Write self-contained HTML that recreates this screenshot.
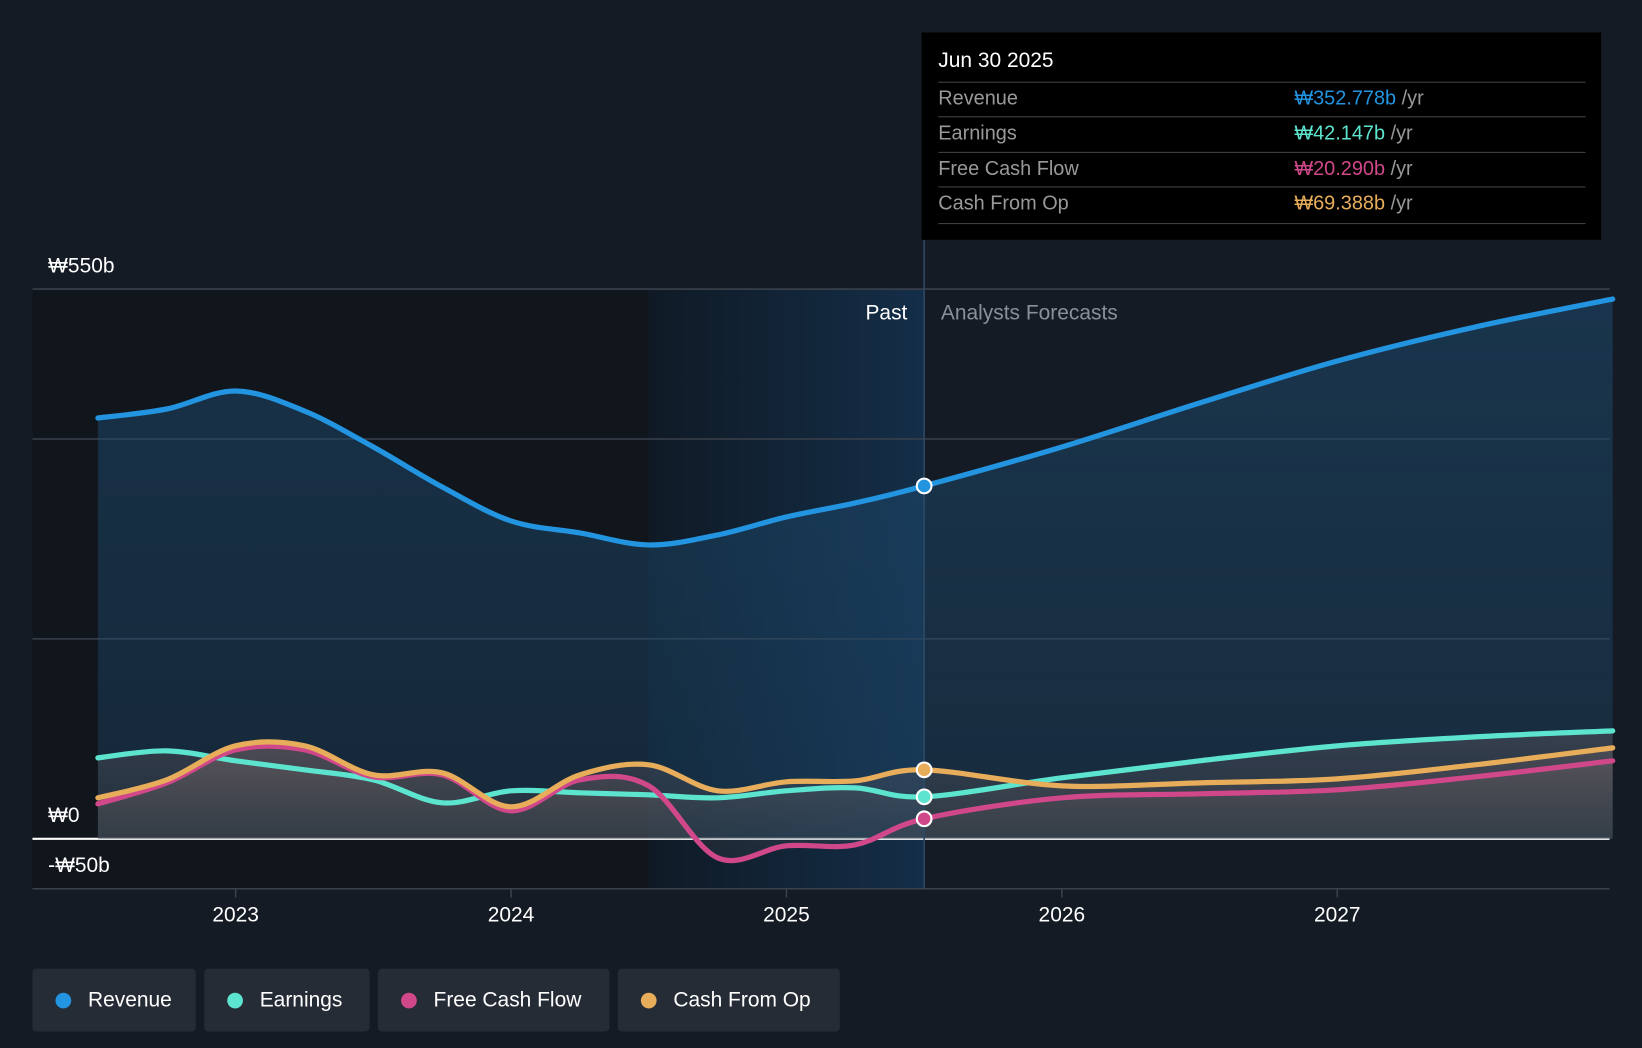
<!DOCTYPE html>
<html><head><meta charset="utf-8"><style>
html,body{margin:0;padding:0;background:#151b24;width:1642px;height:1048px;overflow:hidden}
#wrap{position:absolute;left:0;top:0;width:1568px;height:1001px;transform:scale(1.04719);transform-origin:0 0;font-family:"Liberation Sans",sans-serif}
svg{position:absolute;left:0;top:0}
.leg{position:absolute;top:925px;height:60px;background:#262c36;border-radius:4px;color:#fff;font-size:20px;line-height:60px;box-sizing:border-box;padding-left:53px}
.leg i{position:absolute;left:22px;top:23px;width:15px;height:15px;border-radius:50%}
#tip{position:absolute;left:880px;top:31px;width:649px;height:198px;background:#000}
.tr{position:absolute;left:16px;width:618px;height:33px;border-top:1px solid #444;color:#999;font-size:19px;line-height:32px}
.tr span{position:absolute;left:340px}
</style></head><body>
<div id="wrap">
<svg id="chart" width="1568" height="1001"></svg>
<div id="tip">
<div style="position:absolute;left:16px;top:16px;color:#fff;font-size:20px">Jun 30 2025</div>
<div class="tr" style="top:47px">Revenue<span><b style="font-weight:normal;color:#2394e0">₩352.778b</b> /yr</span></div>
<div class="tr" style="top:80px">Earnings<span><b style="font-weight:normal;color:#5de4cf">₩42.147b</b> /yr</span></div>
<div class="tr" style="top:114px">Free Cash Flow<span><b style="font-weight:normal;color:#d0488a">₩20.290b</b> /yr</span></div>
<div class="tr" style="top:147px;height:34px;border-bottom:1px solid #444">Cash From Op<span><b style="font-weight:normal;color:#e8ad5a">₩69.388b</b> /yr</span></div>
</div>
<div class="leg" style="left:31px;width:156px"><i style="background:#2394e0"></i>Revenue</div>
<div class="leg" style="left:195px;width:158px"><i style="background:#5de4cf"></i>Earnings</div>
<div class="leg" style="left:361px;width:221px"><i style="background:#d0488a"></i>Free Cash Flow</div>
<div class="leg" style="left:590px;width:212px"><i style="background:#e8ad5a"></i>Cash From Op</div>
</div>
<script>
const dates=[2022.5,2022.75,2023,2023.25,2023.5,2023.75,2024,2024.25,2024.5,2024.75,2025,2025.25,2025.5,2026,2026.5,2027,2027.5,2028];
const revenue=[421,430,448,428,392,352,318,306,294,304,322,336,353,392,436,478,512,540];
const earnings=[81,88,78,69,59,36,48,46,44,41,48,51,42,61,78,93,102,108];
const fcf=[35,56,89,89,62,64,28,59,53,-19,-7,-6,20,41,45,49,62,78];
const cfo=[41,59,93,93,64,66,32,64,74,48,57,58,69,53,56,60,74,91];
const yTicks=[550,400,200,0,-50];
const yLabels={550:"₩550b",0:"₩0","-50":"-₩50b"};
const xTicks=[2023,2024,2025,2026,2027];
const pastEnd=2025.5, bandStart=2024.5;
const X=d=>225+(d-2023)*263;
const Y=v=>801-v*0.9545;
const svg=document.getElementById('chart');
const NS="http://www.w3.org/2000/svg";
function mk(t,a){const e=document.createElementNS(NS,t);for(const k in a)e.setAttribute(k,a[k]);svg.appendChild(e);return e;}
function path(vals){const p=dates.map((d,i)=>[X(d),Y(vals[i])]);let s=`M${p[0][0]},${p[0][1]}`;
for(let i=0;i<p.length-1;i++){const p0=p[i-1]||p[i],p1=p[i],p2=p[i+1],p3=p[i+2]||p2;const t=6;
s+=` C${p1[0]+(p2[0]-p0[0])/t},${p1[1]+(p2[1]-p0[1])/t} ${p2[0]-(p3[0]-p1[0])/t},${p2[1]-(p3[1]-p1[1])/t} ${p2[0]},${p2[1]}`;}return s;}
const defs=mk('defs',{});
defs.innerHTML='<linearGradient id="gr" x1="0" y1="0" x2="0" y2="1"><stop offset="0" stop-color="#1d4a6e" stop-opacity="0.55"/><stop offset="1" stop-color="#1d4a6e" stop-opacity="0.35"/></linearGradient><linearGradient id="go" x1="0" y1="0" x2="0" y2="1"><stop offset="0" stop-color="#8a7070" stop-opacity="0.5"/><stop offset="1" stop-color="#555" stop-opacity="0.3"/></linearGradient><linearGradient id="gb" x1="0" y1="0" x2="1" y2="0"><stop offset="0" stop-color="#0f1a25"/><stop offset="1" stop-color="#142e48"/></linearGradient>';
let e=mk('rect',{x:31,y:276,width:X(bandStart)-31,height:573,fill:'#11151c'});

e=mk('rect',{x:X(bandStart),y:276,width:X(pastEnd)-X(bandStart),height:573,fill:'url(#gb)'});

yTicks.forEach(v=>{const l=mk('line',{x1:31,x2:1537,y1:Y(v),y2:Y(v),stroke:v===0?'#fff':'#3a414b','stroke-width':v===0?2:1.5});

if(yLabels[v]){const t=mk('text',{x:46,y:Y(v)-16,fill:'#fff','font-size':20,'font-weight':500});
t.textContent=yLabels[v];}});
const rp=path(revenue);
e=mk('path',{d:rp+` L${X(dates[dates.length-1])},${Y(0)} L${X(dates[0])},${Y(0)} Z`,fill:'url(#gr)'});

[[earnings,'earnings'],[cfo,'cfo'],[fcf,'fcf']].forEach(([v,n])=>{const a=mk('path',{d:path(v)+` L${X(dates[dates.length-1])},${Y(0)} L${X(dates[0])},${Y(0)} Z`,fill:'url(#go)',opacity:0.55});
});
const series=[[revenue,'#2394e0','revenue-line'],[earnings,'#5de4cf','earnings-line'],[fcf,'#d0488a','fcf-line'],[cfo,'#e8ad5a','cfo-line']];
series.forEach(([v,c,n])=>{const l=mk('path',{d:path(v),fill:'none',stroke:c,'stroke-width':5,'stroke-linecap':'round'});
});
e=mk('line',{x1:X(pastEnd),x2:X(pastEnd),y1:229,y2:849,stroke:'#2d4a66','stroke-width':1.5});

const pi=dates.indexOf(pastEnd);
series.forEach(([v,c,n])=>{const d=mk('circle',{cx:X(pastEnd),cy:Y(v[pi]),r:7,fill:c,stroke:'#fff','stroke-width':2});
});
e=mk('text',{x:X(pastEnd)-16,y:305,fill:'#fff','font-size':20,'text-anchor':'end'});e.textContent='Past';

e=mk('text',{x:X(pastEnd)+16,y:305,fill:'#8a9099','font-size':20});e.textContent='Analysts Forecasts';

xTicks.forEach(t=>{const l=mk('line',{x1:X(t),x2:X(t),y1:849,y2:857,stroke:'#3a414b','stroke-width':1.5});

const tx=mk('text',{x:X(t),y:880,fill:'#fff','font-size':20,'font-weight':500,'text-anchor':'middle'});tx.textContent=t;
});
</script>
</body></html>
